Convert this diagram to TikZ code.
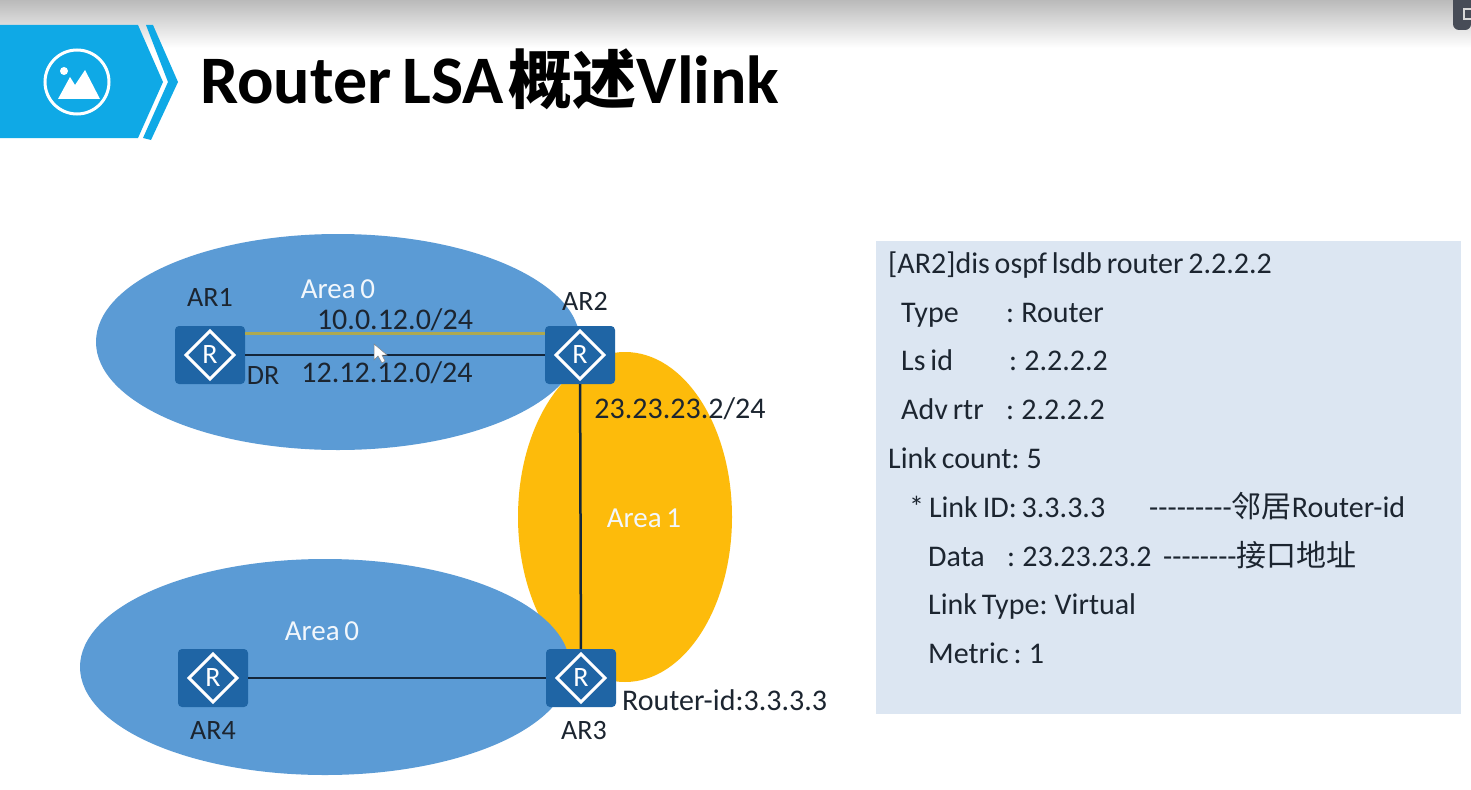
\documentclass[tikz,border=0pt]{standalone}
\usepackage{xcolor}
\usepackage{fontspec}
\setmainfont[WordSpace=0.72]{Carlito}
\newfontfamily\cjk{Noto Sans CJK SC}
\usetikzlibrary{positioning}

\definecolor{areablue}{HTML}{5B9BD5}
\definecolor{areayellow}{HTML}{FDBB0B}
\definecolor{routerblue}{HTML}{1F65A5}
\definecolor{bannerblue}{HTML}{0FA9E6}
\definecolor{panelblue}{HTML}{DCE6F2}
\definecolor{inktext}{HTML}{1C2530}
\definecolor{buttongrey}{HTML}{474C57}
\definecolor{linkdark}{HTML}{14263A}

\begin{document}
\begin{tikzpicture}[
    x=1pt, y=-1pt,
    router/.style={rectangle, rounded corners=4pt, fill=routerblue, text=white, inner sep=0pt,
        minimum width=70pt, minimum height=58pt, font=\fontsize{28}{28}\selectfont,
        path picture={\draw [white, line width=3pt, sharp corners, line join=miter]
            ([xshift=-24pt]path picture bounding box.center) -- ([yshift=24pt]path picture bounding box.center)
            -- ([xshift=24pt]path picture bounding box.center) -- ([yshift=-24pt]path picture bounding box.center) -- cycle;}},
    netlabel/.style={inner sep=0pt, text=inktext, font=\fontsize{30}{30}\selectfont},
    namelabel/.style={inner sep=0pt, text=inktext, font=\fontsize{28}{28}\selectfont},
    arealabel/.style={inner sep=0pt, text=white!92!areablue, font=\fontsize{29}{29}\selectfont},
    panelline/.style={anchor=base west, inner sep=0pt, text=inktext, font=\fontsize{30}{30}\selectfont},
    link/.style={line width=2.5pt, draw=linkdark}
]
\useasboundingbox (0,0) rectangle (1471,789);
\fill [white] (0,0) rectangle (1471,789);

% Top shadow and window button
\shade [top color=black!27, bottom color=white] (0,0) rectangle (1471,48);
\fill [buttongrey, rounded corners=6pt] (1453,0) -- (1453,30) -- (1471,30) [sharp corners] -- (1471,0) -- cycle;
\draw [white!85!black, line width=1.5pt] (1471,9) -- (1464,9) -- (1464,19) -- (1471,19);

% Title banner
\fill [bannerblue] (0,25) -- (138,25) -- (163,82) -- (138,138) -- (0,138) -- cycle;
\fill [bannerblue] (146,25) -- (153,25) -- (178,82) -- (151,140) -- (143,138) -- (168,82) -- cycle;
\draw [white, line width=3pt] (77,82) circle[radius=32];
\fill [white] (58,99) -- (70,77) -- (75,85) -- (85,70) -- (100,99) -- cycle;
\fill [white] (64,71) circle[radius=4];
\node (title) [anchor=base west, inner sep=0pt, font=\fontsize{68}{68}\selectfont\bfseries] at (200,104) {Router LSA\hspace{5pt}{\cjk\fontsize{64}{64}\selectfont 概述}Vlink};

% Areas, the yellow one lies behind
\fill [areayellow] (625,517) ellipse[x radius=107, y radius=165];
\fill [areablue] (338,342) ellipse[x radius=242, y radius=108];
\fill [areablue] (325,667) ellipse[x radius=245, y radius=108];

% Routers
\node (ar1) [router] at (210,355) {R};
\node (ar2) [router] at (580,355) {R};
\node (ar3) [router] at (581,678) {R};
\node (ar4) [router] at (213,678) {R};

% Links between routers
\draw [line width=3pt, draw=yellow!60!black!90] ([yshift=22pt]ar1.east) -- ([yshift=22pt]ar2.west);
\draw [link] (ar1) -- (ar2);
\draw [link] (ar2) -- (ar3);
\draw [link] (ar4) -- (ar3);

% Router names
\node (name1) [namelabel, above=19pt of ar1] {AR1};
\node (name2) [namelabel, above=15pt of ar2, xshift=5pt] {AR2};
\node (name3) [namelabel, below=14pt of ar3, xshift=3pt] {AR3};
\node (name4) [namelabel, below=14pt of ar4] {AR4};

% Area and network labels
\node (area0a) [arealabel] at (338,289) {Area 0};
\node (area0b) [arealabel] at (322,631) {Area 0};
\node (area1) [arealabel] at (644,518) {Area 1};
\node (net1) [netlabel] at (395,320) {10.0.12.0/24};
\node (net2) [netlabel] at (387,373) {12.12.12.0/24};
\node (dr) [namelabel] at (263,376) {DR};
\node (addr) [netlabel] at (680,409) {23.23.23.2/24};
\node (rid) [netlabel, anchor=west] at (622,700) {Router-id:3.3.3.3};

% Mouse pointer
\fill [white, draw=black!50, line width=0.5pt] (374,344) -- (374,360) -- (378,356) -- (382,363) -- (385,361) -- (382,355) -- (387,355) -- cycle;

% LSDB output
\fill [panelblue] (876,241) rectangle (1461,714);
\node (cmd) [panelline] at (888,273) {[AR2]dis ospf lsdb router 2.2.2.2};
\node (type) [panelline] at (901,322) {Type};
\node (typev) [panelline] at (1006,322) {: Router};
\node (lsid) [panelline] at (901,370) {Ls id};
\node (lsidv) [panelline] at (1009,370) {: 2.2.2.2};
\node (adv) [panelline] at (901,419) {Adv rtr};
\node (advv) [panelline] at (1006,419) {: 2.2.2.2};
\node (count) [panelline] at (888,468) {Link count: 5};
\node (linkid) [panelline] at (909,517) {* Link ID: 3.3.3.3};
\node (linkidc) [panelline] at (1149,517) {-{}-{}-{}-{}-{}-{}-{}-{}-{\cjk 邻居}Router-id};
\node (data) [panelline] at (928,566) {Data};
\node (datav) [panelline] at (1007,566) {: 23.23.23.2};
\node (datac) [panelline] at (1163,566) {-{}-{}-{}-{}-{}-{}-{}-{\cjk 接口地址}};
\node (ltype) [panelline] at (928,614) {Link Type: Virtual};
\node (metric) [panelline] at (928,663) {Metric : 1};

\end{tikzpicture}
\end{document}
